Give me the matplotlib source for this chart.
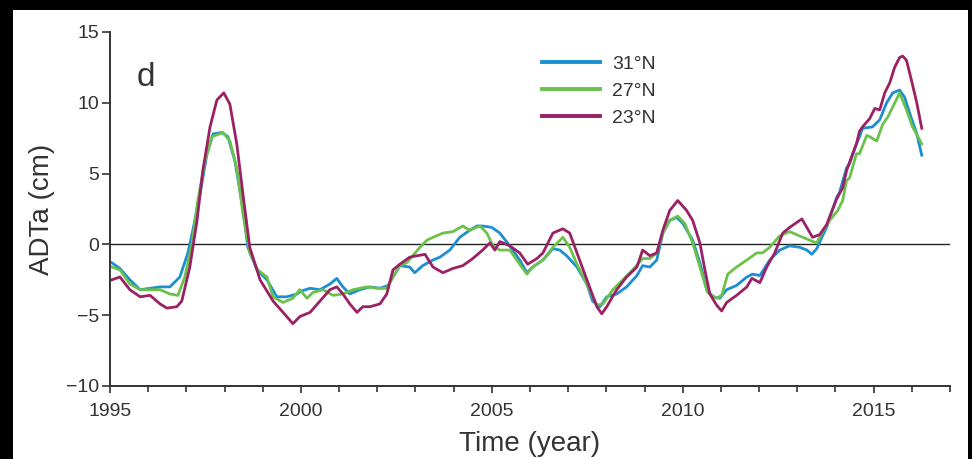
import matplotlib
matplotlib.use("Agg")
import matplotlib.pyplot as plt
from matplotlib.patches import Rectangle
from matplotlib.ticker import MultipleLocator

plt.rcParams['font.family'] = ['Liberation Sans Narrow', 'Liberation Sans', 'DejaVu Sans']

# ---- data ----
t_31 = [1995.05, 1995.26, 1995.52, 1995.79, 1996.05, 1996.31, 1996.57, 1996.83, 1997.04, 1997.17,
        1997.36, 1997.54, 1997.70, 1997.93, 1998.09, 1998.27, 1998.46, 1998.61, 1998.85, 1999.11,
        1999.37, 1999.63, 1999.90, 2000.00, 2000.24, 2000.50, 2000.76, 2000.94, 2001.10, 2001.28,
        2001.54, 2001.81, 2002.07, 2002.28, 2002.46, 2002.59, 2002.85, 2002.98, 2003.19, 2003.46,
        2003.64, 2003.90, 2004.16, 2004.42, 2004.61, 2004.76, 2005.00, 2005.21, 2005.47, 2005.73,
        2005.92, 2006.07, 2006.34, 2006.60, 2006.78, 2006.96, 2007.23, 2007.49, 2007.64, 2007.83,
        2008.01, 2008.27, 2008.53, 2008.80, 2008.95, 2009.14, 2009.32, 2009.48, 2009.66, 2009.84,
        2010.00, 2010.26, 2010.45, 2010.63, 2010.79, 2010.97, 2011.15, 2011.41, 2011.68, 2011.83,
        2012.02, 2012.28, 2012.54, 2012.80, 2013.06, 2013.25, 2013.38, 2013.51, 2013.66, 2013.77,
        2013.85, 2014.03, 2014.11, 2014.29, 2014.37, 2014.55, 2014.63, 2014.71, 2014.97, 2015.16,
        2015.34, 2015.50, 2015.68, 2015.81, 2015.94, 2016.13, 2016.26]
v_31 = [-1.3, -1.7, -2.5, -3.2, -3.1, -3.0, -3.0, -2.3, -0.6, 1.0,
        3.6, 6.4, 7.8, 7.9, 7.6, 5.9, 2.9, -0.2, -1.8, -2.5,
        -3.7, -3.7, -3.5, -3.3, -3.1, -3.2, -2.8, -2.4, -3.0, -3.5,
        -3.2, -3.0, -3.1, -2.9, -2.1, -1.5, -1.6, -2.0, -1.5, -1.1,
        -0.9, -0.4, 0.5, 1.0, 1.3, 1.3, 1.2, 0.8, -0.1, -1.1,
        -2.0, -1.6, -1.1, -0.3, -0.4, -0.8, -1.6, -2.8, -4.0, -4.4,
        -3.7, -3.5, -3.0, -2.2, -1.5, -1.6, -1.1, 0.8, 1.7, 1.9,
        1.5, 0.3, -1.3, -3.2, -3.7, -3.8, -3.2, -2.9, -2.3, -2.1,
        -2.2, -1.1, -0.4, -0.1, -0.2, -0.4, -0.7, -0.3, 0.6, 1.2,
        1.9, 3.3, 3.7, 5.4, 5.7, 7.1, 7.6, 8.2, 8.3, 8.8,
        10.0, 10.7, 10.9, 10.4, 9.3, 7.8, 6.3]

t_27 = [1995.05, 1995.26, 1995.52, 1995.79, 1996.05, 1996.31, 1996.57, 1996.78, 1996.96, 1997.15,
        1997.30, 1997.49, 1997.67, 1997.96, 1998.14, 1998.32, 1998.48, 1998.66, 1998.87, 1999.11,
        1999.27, 1999.53, 1999.79, 1999.97, 2000.16, 2000.31, 2000.58, 2000.84, 2001.10, 2001.36,
        2001.73, 2001.99, 2002.25, 2002.41, 2002.59, 2002.77, 2002.93, 2003.12, 2003.30, 2003.46,
        2003.72, 2003.98, 2004.24, 2004.42, 2004.69, 2004.87, 2005.03, 2005.21, 2005.47, 2005.73,
        2005.92, 2006.07, 2006.34, 2006.60, 2006.86, 2007.04, 2007.23, 2007.49, 2007.75, 2007.91,
        2008.17, 2008.43, 2008.69, 2008.95, 2009.14, 2009.32, 2009.48, 2009.66, 2009.87, 2010.05,
        2010.26, 2010.45, 2010.65, 2010.89, 2011.02, 2011.18, 2011.41, 2011.68, 2011.94, 2012.09,
        2012.28, 2012.54, 2012.80, 2013.06, 2013.32, 2013.51, 2013.62, 2013.85, 2014.06, 2014.19,
        2014.29, 2014.37, 2014.55, 2014.63, 2014.82, 2014.90, 2015.08, 2015.24, 2015.37, 2015.50,
        2015.68, 2015.86, 2016.02, 2016.26]
v_27 = [-1.6, -1.8, -2.8, -3.2, -3.2, -3.2, -3.5, -3.6, -2.3, 0.1,
        3.1, 5.9, 7.6, 7.9, 7.3, 5.4, 2.2, -0.6, -1.8, -2.3,
        -3.7, -4.1, -3.8, -3.2, -3.8, -3.4, -3.2, -3.6, -3.5, -3.2,
        -3.0, -3.1, -3.1, -2.3, -1.5, -1.3, -0.8, -0.2, 0.3, 0.5,
        0.8, 0.9, 1.3, 1.0, 1.3, 0.8, -0.1, -0.4, -0.4, -1.4,
        -2.1, -1.6, -1.1, -0.2, 0.5, -0.2, -1.4, -2.8, -4.3, -4.2,
        -3.2, -2.5, -1.8, -1.0, -1.0, -0.6, 0.8, 1.7, 2.0, 1.5,
        0.1, -1.6, -3.4, -3.8, -3.6, -2.1, -1.6, -1.1, -0.6, -0.6,
        -0.2, 0.6, 0.9, 0.6, 0.3, 0.1, 0.7, 1.7, 2.4, 3.1,
        4.5, 4.7, 6.4, 6.4, 7.7, 7.6, 7.3, 8.5, 9.0, 9.7,
        10.7, 9.5, 8.3, 7.1]

t_23 = [1995.05, 1995.26, 1995.52, 1995.79, 1996.05, 1996.31, 1996.49, 1996.75, 1996.88, 1997.09,
        1997.28, 1997.43, 1997.62, 1997.80, 1997.98, 1998.14, 1998.32, 1998.48, 1998.66, 1998.93,
        1999.27, 1999.63, 1999.79, 1999.97, 2000.24, 2000.50, 2000.76, 2000.94, 2001.10, 2001.28,
        2001.47, 2001.62, 2001.81, 2002.07, 2002.25, 2002.41, 2002.59, 2002.85, 2003.04, 2003.25,
        2003.46, 2003.72, 2003.98, 2004.24, 2004.50, 2004.76, 2004.95, 2005.08, 2005.21, 2005.47,
        2005.73, 2005.94, 2006.18, 2006.34, 2006.60, 2006.86, 2007.04, 2007.23, 2007.49, 2007.75,
        2007.88, 2008.01, 2008.27, 2008.53, 2008.80, 2008.95, 2009.14, 2009.32, 2009.48, 2009.66,
        2009.87, 2010.10, 2010.26, 2010.45, 2010.58, 2010.71, 2010.89, 2011.02, 2011.15, 2011.41,
        2011.68, 2011.81, 2012.02, 2012.20, 2012.41, 2012.62, 2012.80, 2013.12, 2013.25, 2013.40,
        2013.59, 2013.77, 2014.03, 2014.19, 2014.29, 2014.45, 2014.55, 2014.63, 2014.71, 2014.90,
        2015.03, 2015.16, 2015.29, 2015.42, 2015.55, 2015.68, 2015.76, 2015.86, 2015.99, 2016.13,
        2016.26]
v_23 = [-2.5, -2.3, -3.2, -3.7, -3.6, -4.2, -4.5, -4.4, -4.0, -1.6,
        1.7, 5.2, 8.3, 10.2, 10.7, 9.9, 7.1, 3.6, -0.2, -2.5,
        -4.0, -5.1, -5.6, -5.1, -4.8, -4.0, -3.2, -3.0, -3.5, -4.2,
        -4.8, -4.4, -4.4, -4.2, -3.5, -1.8, -1.4, -0.9, -0.8, -0.7,
        -1.6, -2.0, -1.7, -1.5, -1.0, -0.4, 0.1, -0.4, 0.2, -0.1,
        -0.6, -1.4, -1.0, -0.6, 0.8, 1.1, 0.8, -0.6, -2.5, -4.4,
        -4.9, -4.4, -3.2, -2.3, -1.6, -0.4, -0.8, -0.6, 1.0, 2.4,
        3.1, 2.4, 1.7, 0.1, -1.8, -3.5, -4.3, -4.7, -4.1, -3.6,
        -3.0, -2.4, -2.7, -1.6, -0.6, 0.8, 1.2, 1.8, 1.2, 0.5,
        0.7, 1.4, 3.2, 4.0, 5.2, 6.4, 7.1, 8.0, 8.3, 8.9,
        9.6, 9.5, 10.7, 11.4, 12.5, 13.2, 13.3, 13.0, 11.6, 10.0,
        8.2]

labels = ["31°N", "27°N", "23°N"]
colors = ["#1b8fd2", "#6bc24a", "#9b2064"]
yticks = [-10, -5, 0, 5, 10, 15]
xticks = [1995, 2000, 2005, 2010, 2015]

# ---- figure ----
W, H = 972, 459
fig = plt.figure(figsize=(W / 100, H / 100), dpi=100)
fig.patch.set_facecolor("black")
fig.add_artist(Rectangle((13 / W, 0), (968 - 13) / W, (H - 10) / H,
                         transform=fig.transFigure, facecolor="white",
                         edgecolor="none", zorder=-10))

ax = fig.add_axes([110 / W, 1 - 386 / H, 840 / W, 354 / H])
ax.set_facecolor("none")

for t, v, lab, c in zip([t_31, t_27, t_23], [v_31, v_27, v_23], labels, colors):
    ax.plot(t, v, color=c, lw=2.0, label=lab, solid_joinstyle="round")

ax.axhline(0, color="#222222", lw=1.0, zorder=0)

ax.set_xlim(1995, 2017)
ax.set_ylim(-10, 15)
ax.set_xticks(xticks)
ax.xaxis.set_minor_locator(MultipleLocator(1))
ax.set_yticks(yticks)
ax.set_yticklabels(["\u2212" + str(-y) if y < 0 else str(y) for y in yticks])

for s in ["top", "right"]:
    ax.spines[s].set_visible(False)
for s in ["left", "bottom"]:
    ax.spines[s].set_linewidth(1.4)
    ax.spines[s].set_color("#333333")

ax.tick_params(axis="y", which="major", direction="out", length=6, width=1.2,
               labelsize=14, pad=2, colors="#333333", labelcolor="#333333")
ax.tick_params(axis="x", which="major", direction="out", length=5, width=1.2,
               labelsize=14, pad=7, colors="#333333", labelcolor="#333333")
ax.tick_params(axis="x", which="minor", direction="out", length=4, width=1.2,
               colors="#333333")

ax.set_xlabel("Time (year)", fontsize=20, color="#333333", labelpad=8)
ax.set_ylabel("ADTa (cm)", fontsize=20, color="#333333", labelpad=8)

ax.text(0.032, 0.871, "d", transform=ax.transAxes, fontsize=24, color="#333333",
        ha="left", va="center")

leg = ax.legend(loc="upper left", bbox_to_anchor=(0.505, 0.957), frameon=False,
                fontsize=14, handlelength=3.0, handletextpad=0.6,
                labelspacing=0.5, borderaxespad=0)
for txt in leg.get_texts():
    txt.set_color("#333333")
for ln in leg.get_lines():
    ln.set_linewidth(2.8)

fig.savefig("out.png", dpi=100, facecolor=fig.get_facecolor())
